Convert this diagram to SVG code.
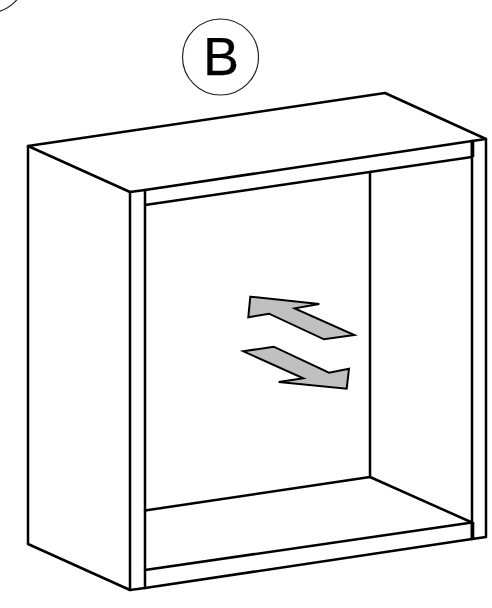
<svg xmlns="http://www.w3.org/2000/svg" width="492" height="608" viewBox="0 0 492 608">
<style>
.l{fill:none;stroke:#000;stroke-width:2.5;stroke-linejoin:round;stroke-linecap:round}
.t{fill:none;stroke:#000;stroke-width:3.6}
.a{fill:#c0c0c0;stroke:#000;stroke-width:2;stroke-linejoin:miter}
.c{fill:#fff;stroke:#222;stroke-width:1.2}
.b{font-family:"Liberation Sans",Arial,sans-serif;font-size:54px;fill:#000;stroke:#000;stroke-width:.25;text-anchor:middle}
</style>
<rect width="492" height="608" fill="#fff"/>
<g id="prior-badge"><circle class="c" cx="-12" cy="-25" r="38"/></g>
<g id="badge-b"><circle class="c" cx="220.500" cy="57" r="38"/><text class="b" x="221" y="75">B</text></g>
<g id="cabinet">
<path class="l" d="M130 192L28 146L385 93L486 139V537L472 539"/>
<path class="l" d="M28 146V544L130 590V192L145 190L472 141L486 139"/>
<path class="l" d="M130 590L145 588L472 539"/>
<path class="l" d="M145 190V588"/>
<path class="l" d="M145 205L472 157"/>
<path class="l" d="M370 172V477"/>
<path class="l" d="M145 510.500L370 477L472 522.500"/>
<path class="l" d="M145 570L472 522.500"/>
<path class="l" d="M472 141V539"/>
<path class="t" d="M472.500 142V157M472.500 522V539"/>
</g>
<g id="arrow-left"><polygon class="a" points="250.300,296.700 319.300,304 294.700,308.300 354.300,335 324,339.300 269,313.700 248.300,317.300"/></g>
<g id="arrow-right"><polygon class="a" points="243.300,351.300 273.700,346.700 329,372.700 349,368.700 346.700,388.700 278.700,382 303.300,378.300"/></g>
</svg>
